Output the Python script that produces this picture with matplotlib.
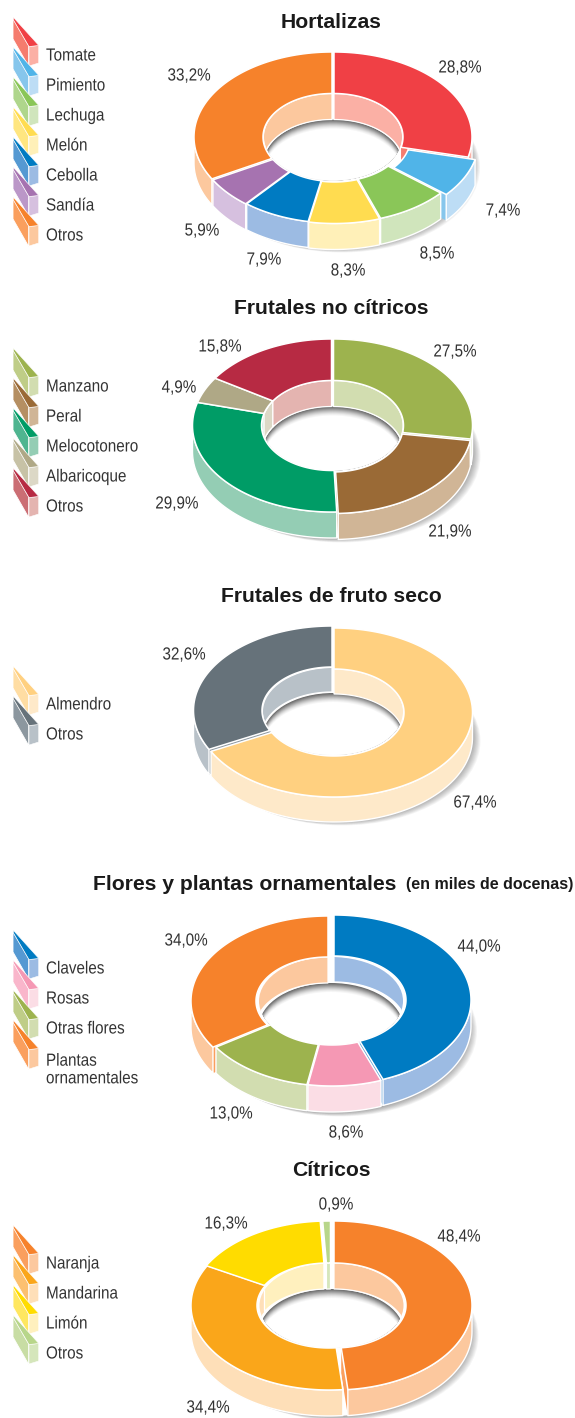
import numpy as np
import matplotlib
matplotlib.use("Agg")
import matplotlib.pyplot as plt
from matplotlib.patches import Polygon, Ellipse
from matplotlib.patheffects import AbstractPathEffect
from matplotlib.transforms import Affine2D

# ---------- data ----------
hort_labels = ["Tomate", "Pimiento", "Lechuga", "Melón", "Cebolla", "Sandía", "Otros"]
hort_values = [28.8, 7.4, 8.5, 8.3, 7.9, 5.9, 33.2]
frut_labels = ["Manzano", "Peral", "Melocotonero", "Albaricoque", "Otros"]
frut_values = [27.5, 21.9, 29.9, 4.9, 15.8]
seco_labels = ["Almendro", "Otros"]
seco_values = [67.4, 32.6]
flor_labels = ["Claveles", "Rosas", "Otras flores", "Plantas\nornamentales"]
flor_values = [44.0, 8.6, 13.0, 34.0]
citr_labels = ["Naranja", "Mandarina", "Limón", "Otros"]
citr_values = [48.4, 34.4, 16.3, 0.9]

# ---------- styles ----------
RED = ("#F04045", "#F57C6E", "#FBB0A5")
SKY = ("#50B4E8", "#86C6EC", "#BDDDF5")
LEAF = ("#8AC658", "#AFD68C", "#D0E5BC")
YEL = ("#FFDC50", "#FFE680", "#FFF0B8")
BLU = ("#007BC2", "#5599D2", "#9CBBE3")
PUR = ("#A673B0", "#BB97C8", "#D6C0DF")
ORA = ("#F6822B", "#FA9F5E", "#FCC89E")
OLI = ("#9DB34E", "#BFCD87", "#D2DDB0")
BRO = ("#9A6A36", "#B58F62", "#D0B596")
GRN = ("#009C66", "#4FB590", "#94CDB4")
SAN = ("#AFA886", "#C7C2A6", "#DCD8C6")
CRI = ("#B72A43", "#CB6E74", "#E4B4B0")
ALM = ("#FFD080", "#FFDDA3", "#FEE9C9")
SLA = ("#66727A", "#8C979F", "#B8C1C8")
PIN = ("#F598B4", "#F9B6CB", "#FBDDE5")
MAN = ("#FAA61A", "#FCC070", "#FEDFB8")
LIM = ("#FFDC00", "#FFE760", "#FFF0BE")
LGR = ("#B8D68A", "#C8DDA4", "#D5E6BB")

TXT = "#333333"
BOLD = ["Liberation Sans", "DejaVu Sans"]
LEG = 12.6
TITLE = 15.2
SQUEEZE = 0.87

fig = plt.figure(figsize=(5.75, 14.18), dpi=100)
ax = fig.add_axes([0, 0, 1, 1])
ax.set_xlim(0, 575)
ax.set_ylim(1418, 0)
ax.axis("off")


class Narrow(AbstractPathEffect):
    """Condense a real text horizontally about a fixed x (display pixels)."""

    def __init__(self, x0, sx):
        super().__init__()
        self.x0, self.sx = x0, sx

    def draw_path(self, renderer, gc, tpath, affine, rgbFace=None):
        squeeze = Affine2D().translate(-self.x0, 0).scale(self.sx, 1).translate(self.x0, 0)
        renderer.draw_path(gc, tpath, affine + squeeze, rgbFace)


def label(x, y, s, ha):
    ax.text(x, y + 1, s, ha=ha, va="center", fontsize=LEG, family="Liberation Sans", color=TXT,
            linespacing=1.22, path_effects=[Narrow(x, SQUEEZE)])


def pts(g, theta, rx, ry, off=(0, 0)):
    t = np.radians(theta)
    return np.column_stack([g["cx"] + off[0] + rx * np.sin(t),
                            g["cy"] + off[1] - ry * np.cos(t)])


def arc(a, b):
    return np.linspace(a, b, max(3, int(abs(b - a)) + 2))


def overlap(a, b, lo, hi):
    x, y = max(a, lo), min(b, hi)
    return (x, y) if y > x else None


def donut(g, values, colors, offsets):
    edges = np.concatenate([[0], np.cumsum(values)]) / sum(values) * 360
    rx, ry, ix, iy, d = g["rx"], g["ry"], g["ix"], g["iy"], g["depth"]
    # soft drop shadow
    for k in range(10, 0, -1):
        ax.add_patch(Ellipse((g["cx"] + k * 0.9, g["cy"] + d + k * 0.45), 2 * rx, 2 * ry,
                             fc="#000000", ec="none", alpha=0.04))
    # white body, so the gaps between slices stay clean
    back = pts(g, arc(-90, 90), rx, ry)
    front = pts(g, arc(90, 270), rx, ry) + [0, d]
    ax.add_patch(Polygon(np.vstack([back, front]), fc="white", ec="none"))
    # hole with graded inner shadow
    hole = Ellipse((g["cx"], g["cy"]), 2 * ix, 2 * iy, fc="white", ec="none")
    ax.add_patch(hole)
    shades = ["#6E6E6E", "#808080", "#949494", "#A8A8A8", "#BCBCBC",
              "#CECECE", "#DEDEDE", "#ECECEC", "#F6F6F6", "#FFFFFF"]
    for k, c in enumerate(shades):
        e = Ellipse((g["cx"], g["cy"] + d + k), 2 * ix, 2 * iy, fc=c, ec="none")
        ax.add_patch(e)
        e.set_clip_path(hole)
    # cut faces, visible only where a slice stands apart from its neighbour
    for i, off in enumerate(offsets):
        for th, ok in ((edges[i + 1], 90 < edges[i + 1] < 180), (edges[i], 180 < edges[i] < 270)):
            if ok:
                a = pts(g, np.array([th]), rx, ry, off)
                b = pts(g, np.array([th]), ix, iy, off)
                ax.add_patch(Polygon(np.vstack([a, b, b + [0, d], a + [0, d]]),
                                     fc=colors[i][1], ec="none"))
    # outer walls
    for i, off in enumerate(offsets):
        part = overlap(edges[i], edges[i + 1], 90, 270)
        if part:
            top = pts(g, arc(*part), rx, ry, off)
            ax.add_patch(Polygon(np.vstack([top, (top + [0, d])[::-1]]), fc=colors[i][2],
                                 ec="white", lw=1.0, joinstyle="round"))
    # inner walls
    for i, off in enumerate(offsets):
        for lo, hi in ((0, 90), (270, 360)):
            part = overlap(edges[i], edges[i + 1], lo, hi)
            if part:
                top = pts(g, arc(*part), ix, iy, off)
                p = Polygon(np.vstack([top, (top + [0, d])[::-1]]), fc=colors[i][2],
                            ec="white", lw=0.9)
                ax.add_patch(p)
                p.set_clip_path(hole)
    # top faces
    for i, off in enumerate(offsets):
        th = arc(edges[i], edges[i + 1])
        poly = np.vstack([pts(g, th, rx, ry, off), pts(g, th[::-1], ix, iy, off)])
        ax.add_patch(Polygon(poly, fc=colors[i][0], ec="white", lw=1.1, joinstyle="miter"))


def swatch(y, c):
    top, mid, pale = c
    ax.add_patch(Polygon([(13, y - 36), (28.7, y - 9), (28.7, y + 11.5), (13, y - 16)],
                         fc=mid, ec="white", lw=0.6))
    ax.add_patch(Polygon([(29, y - 8.5), (38.7, y - 9.5), (38.7, y + 8), (29, y + 11)],
                         fc=pale, ec="white", lw=0.4))
    ax.add_patch(Polygon([(13.5, y - 37.5), (38.8, y - 9.5), (29, y - 8.5), (13.5, y - 35)],
                         fc=top, ec="white", lw=0.4))


def legend(labels, ys, colors, sw_ys=None):
    for lab, y, sy, c in zip(labels, ys, sw_ys or ys, colors):
        swatch(sy, c)
        label(46, y, lab, "left")


def pct(items, values):
    for v, (x, y) in zip(values, items):
        label(x, y, f"{v:.1f}%".replace(".", ","), "center")


def title(y, s):
    ax.text(331.5, y, s, ha="center", va="center", fontsize=TITLE, family=BOLD,
            weight="bold", color="#1a1a1a")


# ---------- Hortalizas ----------
g = dict(cx=333, cy=137, rx=138, ry=85, ix=69, iy=43.5, depth=26)
hort_colors = [RED, SKY, LEAF, YEL, BLU, PUR, ORA]
donut(g, hort_values, hort_colors,
      [(1, 0), (8, 2.5), (2.5, 1), (1.5, 1.5), (1, 1), (0, 1), (-1, 0)])
pct([(460, 67), (503, 210), (437, 253), (348, 270), (264, 259), (202, 230), (189, 75)], hort_values)
legend(hort_labels, [55, 85, 115, 145, 175, 205, 235], hort_colors)
title(22, "Hortalizas")

# ---------- Frutales no cítricos ----------
g = dict(cx=332.5, cy=425.5, rx=139, ry=86.5, ix=70, iy=45, depth=26)
frut_colors = [OLI, BRO, GRN, SAN, CRI]
donut(g, frut_values, frut_colors, [(1, 0), (0.5, 1.5), (-1, 0), (-1, 0), (-1, 0)])
pct([(455, 351), (450, 531), (177, 503), (179, 387), (220, 346)], frut_values)
legend(frut_labels, [386, 416, 446, 476, 506], frut_colors)
title(309, "Frutales no cítricos")

# ---------- Frutales de fruto seco ----------
g = dict(cx=333, cy=711.5, rx=138.5, ry=84.5, ix=70, iy=43.5, depth=25)
seco_colors = [ALM, SLA]
donut(g, seco_values, seco_colors, [(1, 1), (-1, -1)])
pct([(475, 802), (184, 654)], seco_values)
legend(seco_labels, [704, 734], seco_colors)
title(596, "Frutales de fruto seco")

# ---------- Flores y plantas ornamentales ----------
g = dict(cx=331, cy=1001, rx=137, ry=85, ix=72, iy=44, depth=26)
flor_colors = [BLU, PIN, OLI, ORA]
donut(g, flor_values, flor_colors, [(3, -1), (1, 0), (0, 0), (-3, 0)])
pct([(479, 946), (346, 1132), (231, 1113), (186, 940)], flor_values)
legend(flor_labels, [968, 998, 1028, 1069], flor_colors, [968, 998, 1028, 1058])
ax.text(93, 884, "Flores y plantas ornamentales", ha="left", va="center", fontsize=TITLE,
        family=BOLD, weight="bold", color="#1a1a1a")
ax.text(573, 885, "(en miles de docenas)", ha="right", va="center", fontsize=11.5,
        family=BOLD, weight="bold", color="#1a1a1a")

# ---------- Cítricos ----------
g = dict(cx=331.5, cy=1305.5, rx=138, ry=84.5, ix=72, iy=42.5, depth=26)
citr_colors = [ORA, MAN, LIM, LGR]
donut(g, citr_values, citr_colors, [(2.5, 0), (-2.5, 0), (-3.5, 0), (-1, 0)])
pct([(459, 1236), (208, 1407), (226, 1223), (336, 1204)], citr_values)
legend(citr_labels, [1263, 1293, 1323, 1353], citr_colors)
title(1170, "Cítricos")

fig.savefig("out.png", dpi=100, facecolor="white")
